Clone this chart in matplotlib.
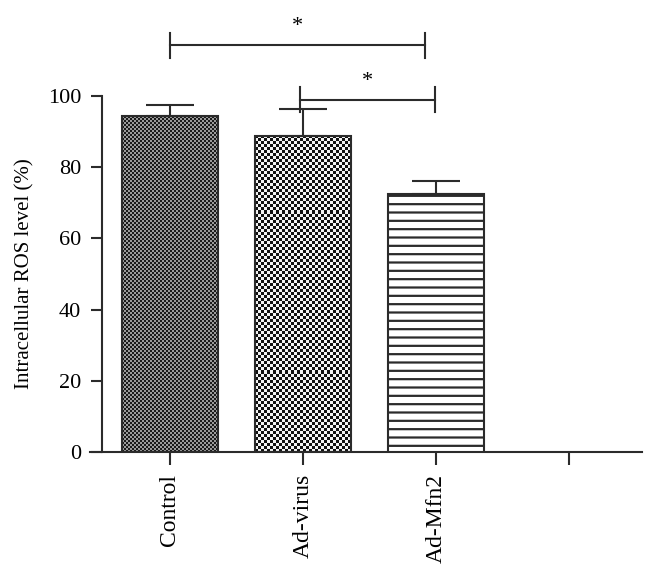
import numpy as np
import matplotlib.pyplot as plt
from matplotlib.colors import ListedColormap

plt.rcParams.update({
    "font.family": "Liberation Serif",
    "font.size": 16,
    "hatch.linewidth": 1.6,
})

# data
groups = ["Control", "Ad-virus", "Ad-Mfn2", ""]
means = [94.3, 88.8, 72.4]
err_up = [3.3, 7.6, 3.6]

# fill style per bar: (checker cell px, dark, light) or None for hatch
fills = [(2.0, "#1a1a1a", "#9a9a9a"), (3.0, "#111111", "#f4f4f4"), None]

# significance brackets: (x0, x1, y, label)
brackets = [(0.0, 1.92, 114.3, "*"), (0.98, 1.99, 99.0, "*")]

LINE = "#2b2b2b"
PX_PER_UNIT_Y = 3.56

fig = plt.figure(figsize=(6.54, 5.73), dpi=100)
ax = fig.add_axes([90 / 654, 1 - 452 / 573, 552 / 654, 452 / 573])

x = np.arange(len(groups))
bars = ax.bar(x[:3], means, width=0.72, color="white",
              edgecolor=LINE, linewidth=1.5, zorder=3)

# checker fills, clipped to the bars
for b, f in zip(bars, fills):
    if f is None:
        b.set_hatch("--")
        continue
    cell, dark, light = f
    nx = int(round(b.get_width() * 133.0 / cell))
    ny = int(round(b.get_height() * PX_PER_UNIT_Y / cell))
    chk = (np.add.outer(np.arange(ny), np.arange(nx)) % 2).astype(float)
    im = ax.imshow(chk, cmap=ListedColormap([dark, light]), aspect="auto",
                   interpolation="nearest", origin="lower", zorder=2,
                   extent=(b.get_x(), b.get_x() + b.get_width(), 0, b.get_height()))
    im.set_clip_path(b)
    b.set_facecolor("none")

ax.errorbar(x[:3], means, yerr=[np.zeros(3), err_up], fmt="none",
            ecolor=LINE, elinewidth=1.5, capsize=17, capthick=1.5, zorder=4)

for x0, x1, y, lab in brackets:
    ax.plot([x0, x1], [y, y], color=LINE, lw=1.5, clip_on=False)
    ax.plot([x0, x0], [y - 3.5, y + 3.5], color=LINE, lw=1.5, clip_on=False)
    ax.plot([x1, x1], [y - 3.5, y + 3.5], color=LINE, lw=1.5, clip_on=False)
    ax.text((x0 + x1) / 2, y + 2.5, lab, ha="center", va="bottom", fontsize=16)

ax.set_xlim(-0.6, 3.55)
ax.set_ylim(0, 452 / PX_PER_UNIT_Y)

ax.spines["top"].set_visible(False)
ax.spines["right"].set_visible(False)
ax.spines["left"].set_position(("data", -0.51))
ax.spines["left"].set_bounds(0, 100)
for s in ["left", "bottom"]:
    ax.spines[s].set_linewidth(1.5)
    ax.spines[s].set_color(LINE)

ax.set_yticks(np.arange(0, 101, 20))
ax.set_xticks(x)
ax.set_xticklabels(groups, rotation=90)
ax.tick_params(axis="y", length=8, width=1.5, color=LINE, labelsize=16, pad=7)
ax.tick_params(axis="x", length=9, width=1.5, color=LINE, labelsize=17, pad=7)
ax.set_ylabel("Intracellular ROS level (%)", fontsize=15)
ax.yaxis.set_label_coords(-0.1, 50 * PX_PER_UNIT_Y / 452)

fig.savefig("out.png", dpi=100)
